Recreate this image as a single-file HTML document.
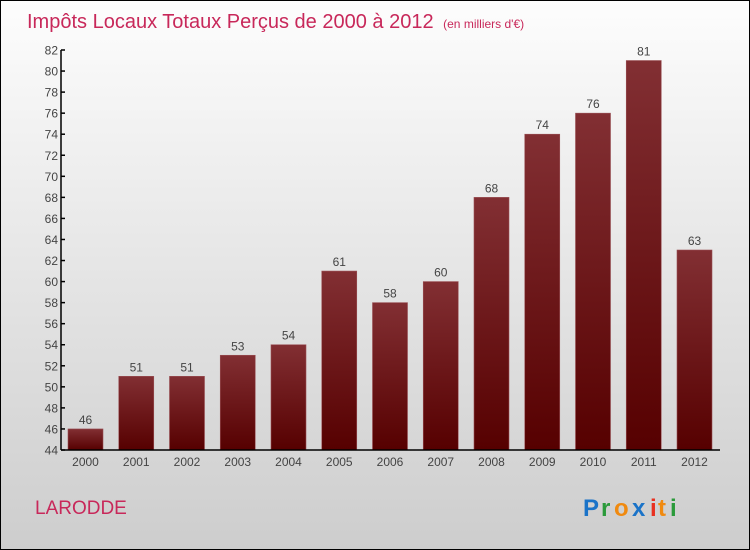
<!DOCTYPE html>
<html><head><meta charset="utf-8"><style>
body{margin:0;}
svg{display:block;font-family:"Liberation Sans",sans-serif;}
</style></head><body>
<svg id="c" width="750" height="550" xmlns="http://www.w3.org/2000/svg">
<defs>
<linearGradient id="bg" x1="0" y1="0" x2="0" y2="1"><stop offset="0" stop-color="#fdfdfd"/><stop offset="1" stop-color="#cdcdcd"/></linearGradient>
<linearGradient id="bar" x1="0" y1="0" x2="0" y2="1"><stop offset="0" stop-color="#822f33"/><stop offset="1" stop-color="#560000"/></linearGradient>
</defs>
<rect x="0.5" y="0.5" width="749" height="549" fill="url(#bg)" stroke="#000"/>
<text x="27" y="28" font-size="20" fill="#c8285a">Impôts Locaux Totaux Perçus de 2000 à 2012 <tspan font-size="12" dx="4">(en milliers d'€)</tspan></text>
<text x="35" y="514" font-size="19" fill="#c8285a">LARODDE</text>
<g font-size="24" font-weight="bold">
<text x="583" y="516" fill="#1a73c8">P</text><text x="601" y="516" fill="#2a9a3a">r</text><text x="614" y="516" fill="#f08a10">o</text><text x="632" y="516" fill="#1a73c8">x</text><text x="650" y="516" fill="#e83020">i</text><text x="658" y="516" fill="#f08a10">t</text><text x="670" y="516" fill="#2a9a3a">i</text>
</g>
<g id="plot"></g>
</svg>
<script>
const years=["2000","2001","2002","2003","2004","2005","2006","2007","2008","2009","2010","2011","2012"];
const values=[46,51,51,53,54,61,58,60,68,74,76,81,63];
const yTicks=[44,46,48,50,52,54,56,58,60,62,64,66,68,70,72,74,76,78,80,82];
const NS="http://www.w3.org/2000/svg";
const g=document.getElementById('plot');
const y0=44,y1=82,py0=450,py1=50,ax=61;
function ys(v){return py0-(v-y0)/(y1-y0)*(py0-py1);}
function xs(i){return 85.5+i*50.75;}
function mk(t,a,txt){const e=document.createElementNS(NS,t);for(const k in a)e.setAttribute(k,a[k]);if(txt!==undefined)e.textContent=txt;g.appendChild(e);return e;}
values.forEach((v,i)=>{
 const r=mk('rect',{x:xs(i)-17.5,y:ys(v),width:35,height:py0-ys(v),fill:'url(#bar)',stroke:'#9a5055','stroke-width':0.6});
 
 
 const l=mk('text',{x:xs(i),y:ys(v)-5,'font-size':12,fill:'#444','text-anchor':'middle'},String(v));
 
 
 const xl=mk('text',{x:xs(i),y:466,'font-size':12,fill:'#444','text-anchor':'middle'},years[i]);
 
 
});
yTicks.forEach(t=>{
 const tk=mk('line',{x1:ax,x2:ax+4,y1:ys(t),y2:ys(t),stroke:'#000','stroke-width':1.5});
 
 
 const tl=mk('text',{x:ax-3,y:ys(t)+4.5,'font-size':12,fill:'#444','text-anchor':'end'},String(t));
 
 
});
const ya=mk('line',{x1:ax,x2:ax,y1:py1,y2:py0,stroke:'#000','stroke-width':1.5});


const xa=mk('line',{x1:ax,x2:720,y1:py0,y2:py0,stroke:'#000','stroke-width':1.5});


</script>
</body></html>
